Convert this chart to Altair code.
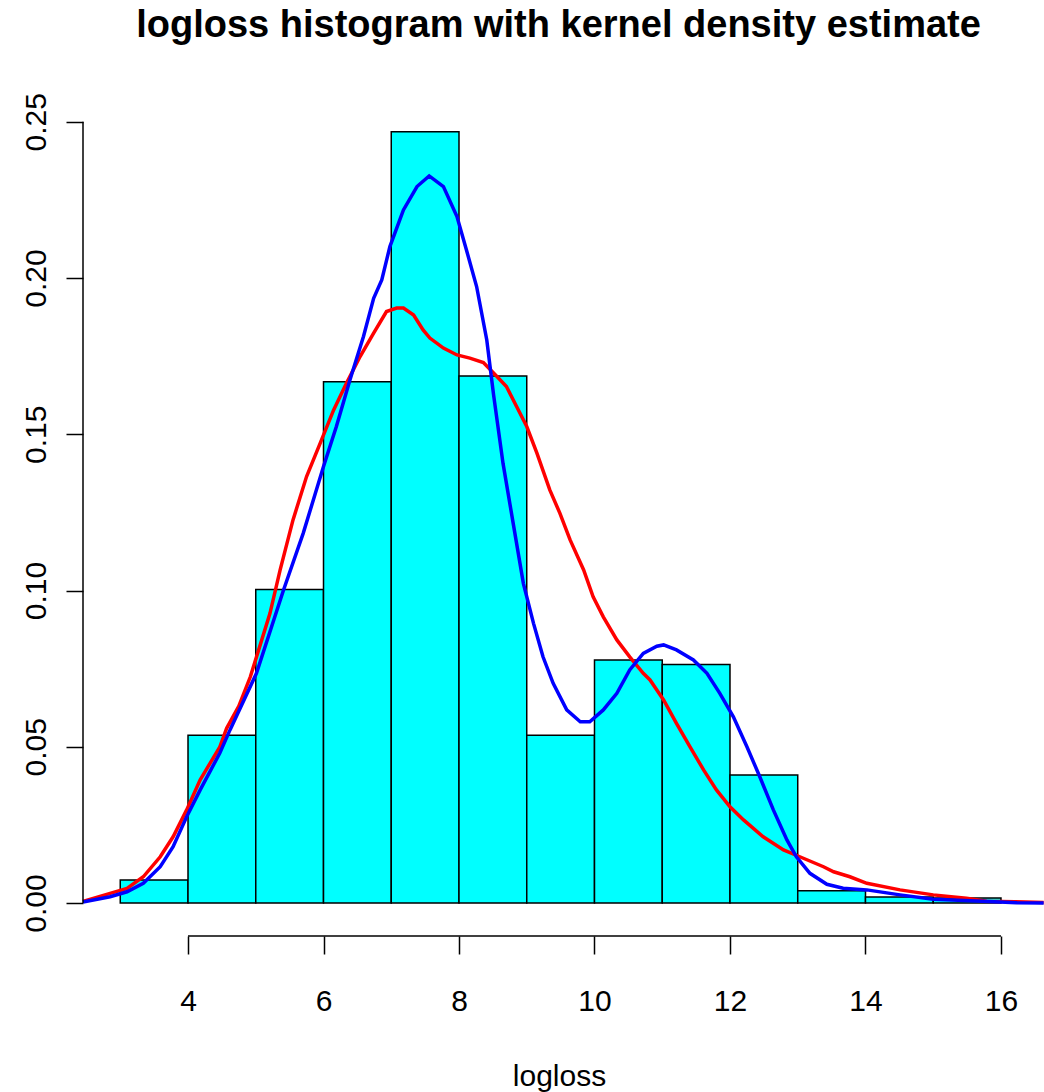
import altair as alt
import pandas as pd

# Histogram (density scale), bin width 1
bin_start = [3, 4, 5, 6, 7, 8, 9, 10, 11, 12, 13, 14, 15]
bin_end = [4, 5, 6, 7, 8, 9, 10, 11, 12, 13, 14, 15, 16]
density = [0.0074, 0.0537, 0.1003, 0.1668, 0.2468, 0.1687, 0.0537, 0.0778,
           0.0763, 0.0410, 0.0039, 0.0019, 0.0016]

# Red kernel density curve
red_x = [2.45, 2.85, 3.10, 3.34, 3.59, 3.78, 3.98, 4.18, 4.47, 4.57, 4.75, 4.92,
         5.21, 5.36, 5.55, 5.75, 5.95, 6.15, 6.34, 6.54, 6.74, 6.93, 7.08, 7.18,
         7.33, 7.47, 7.57, 7.77, 7.97, 8.16, 8.36, 8.56, 8.70, 8.85, 9.00, 9.15,
         9.34, 9.49, 9.64, 9.84, 9.98, 10.13, 10.33, 10.52, 10.72, 10.82, 10.92,
         11.02, 11.21, 11.41, 11.61, 11.80, 12.00, 12.20, 12.49, 12.79, 13.03,
         13.38, 13.53, 13.77, 14.02, 14.51, 15.00, 15.49, 15.79, 16.20, 16.63]
red_y = [0.0005, 0.0031, 0.0047, 0.0084, 0.0148, 0.0212, 0.0298, 0.0394, 0.0500,
         0.0559, 0.0630, 0.0724, 0.0927, 0.1066, 0.1226, 0.1365, 0.1471, 0.1578,
         0.1664, 0.1749, 0.1824, 0.1893, 0.1904, 0.1904, 0.1882, 0.1834, 0.1808,
         0.1776, 0.1754, 0.1744, 0.1730, 0.1685, 0.1653, 0.1589, 0.1525, 0.1440,
         0.1322, 0.1247, 0.1162, 0.1066, 0.0980, 0.0916, 0.0842, 0.0788, 0.0735,
         0.0714, 0.0682, 0.0650, 0.0575, 0.0500, 0.0426, 0.0362, 0.0308, 0.0266,
         0.0212, 0.0170, 0.0148, 0.0116, 0.0100, 0.0084, 0.0063, 0.0042, 0.0026,
         0.0015, 0.0006, 0.0004, 0.0002]

# Blue kernel density curve
blue_x = [2.45, 2.85, 3.10, 3.34, 3.59, 3.78, 3.98, 4.18, 4.47, 4.62, 5.01, 5.41,
          5.70, 6.00, 6.19, 6.39, 6.59, 6.74, 6.86, 6.98, 7.18, 7.38, 7.56, 7.77,
          7.97, 8.11, 8.26, 8.41, 8.51, 8.65, 8.80, 8.95, 9.10, 9.24, 9.39, 9.59,
          9.79, 9.93, 10.13, 10.33, 10.52, 10.72, 10.92, 11.02, 11.21, 11.46,
          11.66, 11.85, 12.05, 12.25, 12.44, 12.64, 12.84, 12.98, 13.18, 13.43,
          13.67, 14.02, 14.51, 15.00, 15.73, 16.23, 16.63]
blue_y = [0.0003, 0.0020, 0.0036, 0.0063, 0.0116, 0.0180, 0.0276, 0.0362, 0.0480,
          0.0554, 0.0735, 0.1002, 0.1183, 0.1397, 0.1525, 0.1674, 0.1813, 0.1935,
          0.1994, 0.2101, 0.2218, 0.2293, 0.2327, 0.2293, 0.2197, 0.2090, 0.1973,
          0.1802, 0.1627, 0.1407, 0.1215, 0.1023, 0.0895, 0.0788, 0.0703, 0.0618,
          0.0580, 0.0580, 0.0618, 0.0671, 0.0746, 0.0799, 0.0822, 0.0826, 0.0810,
          0.0778, 0.0735, 0.0671, 0.0596, 0.0500, 0.0404, 0.0298, 0.0202, 0.0148,
          0.0095, 0.0060, 0.0047, 0.0042, 0.0026, 0.0012, 0.0006, 0.0001, 0.0]

x_ticks = [4, 6, 8, 10, 12, 14, 16]
y_ticks = [0.0, 0.05, 0.10, 0.15, 0.20, 0.25]
x_lim = [2.45, 16.635]
y_lim = [-0.01056, 0.2570]

TITLE = "logloss histogram with kernel density estimate"
XLABEL = "logloss"
FONT = "Liberation Sans"

W, H = 961, 836

hist = pd.DataFrame({"start": bin_start, "end": bin_end, "density": density})
red = pd.DataFrame({"x": red_x, "y": red_y})
blue = pd.DataFrame({"x": blue_x, "y": blue_y})

xscale = alt.Scale(domain=x_lim, nice=False, zero=False)
yscale = alt.Scale(domain=y_lim, nice=False, zero=False)

xaxis = alt.Axis(values=x_ticks, format="d", domain=False, grid=False,
                 tickSize=18, tickWidth=1.5, tickColor="black",
                 labelFont=FONT, labelFontSize=30, labelColor="black",
                 labelBaseline="alphabetic", labelPadding=56, labelFlush=False,
                 labelOverlap=False,
                 title=XLABEL, titleFont=FONT, titleFontSize=30,
                 titleFontWeight="normal", titleColor="black",
                 titleBaseline="alphabetic", titleX=476, titleY=149)
yaxis = alt.Axis(values=y_ticks, format=".2f", domain=False, grid=False,
                 tickSize=17, tickWidth=1.5, tickColor="black",
                 labelFont=FONT, labelFontSize=30, labelColor="black",
                 labelAngle=270, labelAlign="center", labelBaseline="alphabetic",
                 labelPadding=21, labelFlush=False, labelOverlap=False,
                 title=None)

bars = alt.Chart(hist).mark_rect(fill="#00FFFF", stroke="black", strokeWidth=1.5).encode(
    x=alt.X("start:Q", scale=xscale, axis=xaxis),
    x2="end:Q",
    y=alt.Y("density:Q", scale=yscale, axis=yaxis),
    y2=alt.datum(0),
)

red_line = alt.Chart(red).mark_line(color="#FF0000", strokeWidth=3.5).encode(
    x=alt.X("x:Q", scale=xscale), y=alt.Y("y:Q", scale=yscale))
blue_line = alt.Chart(blue).mark_line(color="#0000FF", strokeWidth=3.5).encode(
    x=alt.X("x:Q", scale=xscale), y=alt.Y("y:Q", scale=yscale))

# axis lines spanning only the tick range (R style)
yaxis_line = alt.Chart(pd.DataFrame({"lo": [min(y_ticks)], "hi": [max(y_ticks)]})).mark_rule(
    color="black", strokeWidth=1.5).encode(
    x=alt.datum(x_lim[0]), y=alt.Y("lo:Q", scale=yscale), y2="hi:Q")
xaxis_line = alt.Chart(pd.DataFrame({"lo": [min(x_ticks)], "hi": [max(x_ticks)]})).mark_rule(
    color="black", strokeWidth=1.5).encode(
    y=alt.datum(y_lim[0]), x=alt.X("lo:Q", scale=xscale), x2="hi:Q")

title = alt.Chart(pd.DataFrame({"t": [TITLE]})).mark_text(
    font=FONT, fontSize=38, fontWeight="bold", color="black",
    align="center", baseline="alphabetic").encode(
    text="t:N", x=alt.value(475.5), y=alt.value(-63))

chart = alt.layer(bars, red_line, blue_line, yaxis_line, xaxis_line, title).properties(
    width=W, height=H,
    autosize=alt.AutoSizeParams(type="none"),
    padding={"left": 83, "top": 100, "right": 0, "bottom": 156},
    background="white",
).configure_view(stroke=None)

chart.save("out.html", embed_options={"renderer": "svg", "actions": False})
